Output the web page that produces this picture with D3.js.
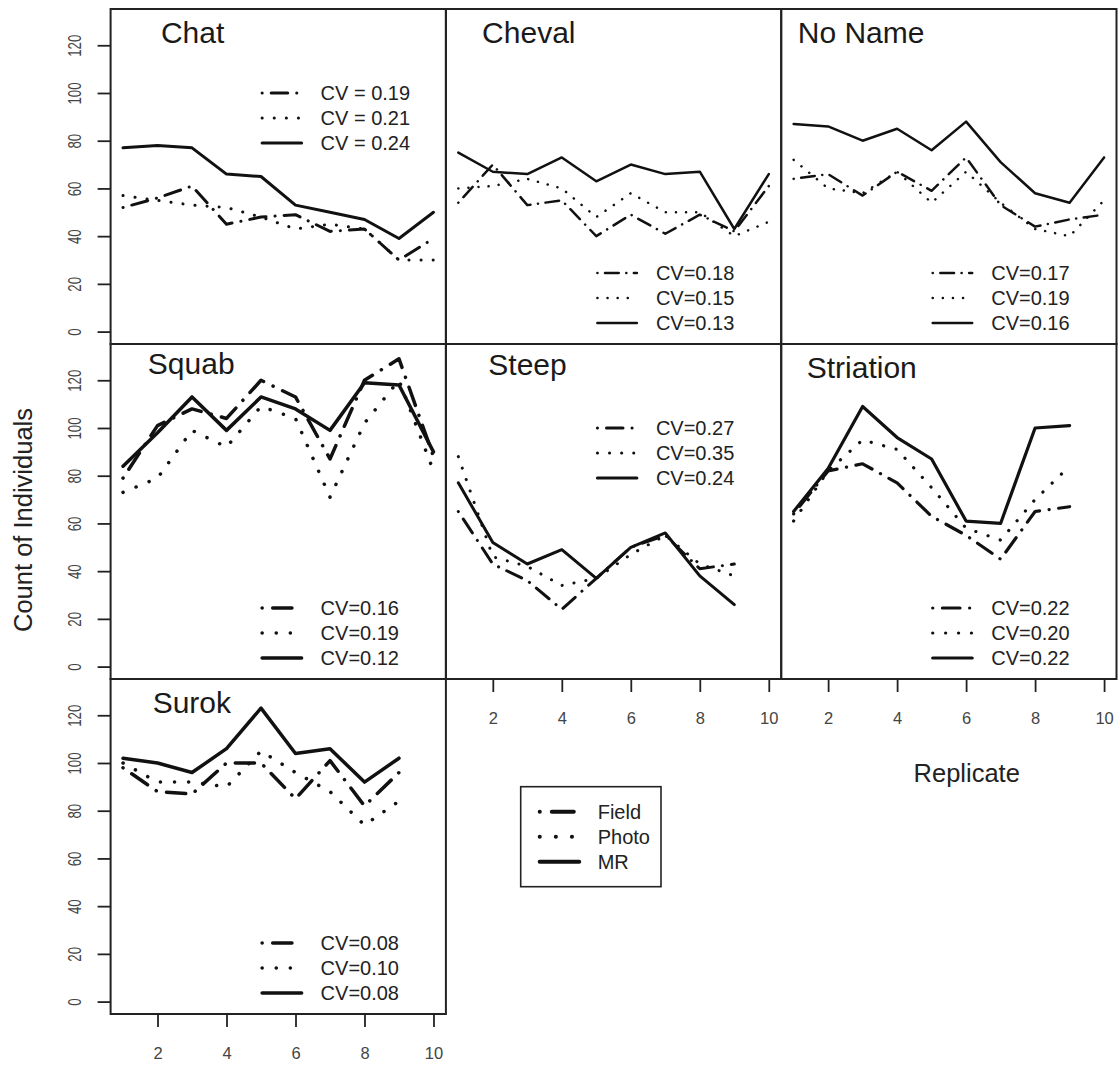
<!DOCTYPE html>
<html>
<head>
<meta charset="utf-8">
<script src="https://cdn.jsdelivr.net/npm/d3@7"></script>
<style>
  body { margin: 0; background: #fff; }
  svg text { font-family: "Liberation Sans", Arial, sans-serif; }
</style>
</head>
<body>
<svg id="chart" width="1119" height="1065"></svg>
<script>
// Site names, one panel each (row-major)
const sites = ["Chat", "Cheval", "No Name", "Squab", "Steep", "Striation", "Surok"];

// Counts per replicate, one row per site
const fieldCounts = [
  [52, 56, 61, 45, 48, 49, 42, 43, 30, 39],
  [54, 70, 53, 55, 40, 49, 41, 49, 42, 61],
  [64, 66, 57, 67, 59, 73, 53, 44, 47, 49],
  [79, 101, 108, 104, 120, 113, 87, 120, 129, 88],
  [65, 43, 36, 24, 37, 50, 55, 41, 43],
  [64, 82, 85, 77, 63, 55, 45, 65, 67],
  [98, 88, 87, 100, 100, 85, 101, 82, 96]
];
const photoCounts = [
  [57, 55, 53, 52, 48, 43, 45, 43, 30, 30],
  [60, 61, 64, 60, 48, 58, 50, 50, 40, 46],
  [72, 60, 58, 67, 54, 67, 54, 43, 40, 55],
  [73, 79, 99, 92, 109, 104, 71, 102, 120, 82],
  [88, 46, 42, 34, 37, 47, 55, 43, 38],
  [61, 82, 95, 91, 75, 58, 53, 70, 84],
  [100, 92, 92, 90, 105, 96, 88, 74, 84]
];
const mrCounts = [
  [77, 78, 77, 66, 65, 53, 50, 47, 39, 50],
  [75, 67, 66, 73, 63, 70, 66, 67, 43, 66],
  [87, 86, 80, 85, 76, 88, 71, 58, 54, 73],
  [84, 98, 113, 99, 113, 108, 99, 119, 118, 90],
  [77, 52, 43, 49, 37, 50, 56, 38, 26],
  [65, 83, 109, 96, 87, 61, 60, 100, 101],
  [102, 100, 96, 106, 123, 104, 106, 92, 102]
];

// CV legend labels per site
const cvField = ["CV = 0.19", "CV=0.18", "CV=0.17", "CV=0.16", "CV=0.27", "CV=0.22", "CV=0.08"];
const cvPhoto = ["CV = 0.21", "CV=0.15", "CV=0.19", "CV=0.19", "CV=0.35", "CV=0.20", "CV=0.10"];
const cvMR    = ["CV = 0.24", "CV=0.13", "CV=0.16", "CV=0.12", "CV=0.24", "CV=0.22", "CV=0.08"];

const methods = ["Field", "Photo", "MR"];
const xTicks = [2, 4, 6, 8, 10];
const yTicks = [0, 20, 40, 60, 80, 100, 120];

// ---- layout (not data) ----
const left0 = 110.6, top0 = 9, PW = 335.3, PH = 335;
const cols = 3;
const titleAt = [[2.1, 121], [1.69, 121], [1.12, 121], [1.72, 122.5], [1.87, 122], [1.38, 121], [1.86, 121]];
const legendTop = [true, false, false, false, true, false, false];
const lineW = [3, 2.5, 2.5, 3.5, 3, 3.2, 3.5];
const hasXAxis = [false, false, false, false, true, true, true];
const INK = "#111";

const dashFor = (m, lw) => m === "Field" ? `0.1 ${3 * lw} ${5.5 * lw} ${3 * lw}`
  : m === "Photo" ? `0.1 ${4 * lw}` : null;

const svg = d3.select("#chart");

const x = d3.scaleLinear().domain([0.64, 10.36]).range([0, PW]);
const y = d3.scaleLinear().domain([-5.2, 135.2]).range([PH, 0]);

const line = d3.line()
  .x((d, i) => x(i + 1))
  .y(d => y(d));

sites.forEach((site, p) => {
  const col = p % cols, row = Math.floor(p / cols);
  const g = svg.append("g")
    .attr("transform", `translate(${left0 + col * PW},${top0 + row * PH})`);
  const lw = lineW[p];

  // series
  const series = [fieldCounts[p], photoCounts[p], mrCounts[p]];
  series.forEach((vals, k) => {
    g.append("path")
      .attr("d", line(vals))
      .attr("fill", "none")
      .attr("stroke", INK)
      .attr("stroke-width", lw)
      .attr("stroke-linecap", "round")
      .attr("stroke-linejoin", "round")
      .attr("stroke-dasharray", dashFor(methods[k], lw));
  });

  // frame
  g.append("rect")
    .attr("width", PW).attr("height", PH)
    .attr("fill", "none").attr("stroke", "#222").attr("stroke-width", 2);

  // site title
  g.append("text")
    .attr("x", x(titleAt[p][0])).attr("y", y(titleAt[p][1]))
    .attr("font-size", 30).attr("fill", "#1a1a1a")
    .text(site);

  // CV legend
  const ly0 = legendTop[p] ? 84 : 264;
  const labels = [cvField[p], cvPhoto[p], cvMR[p]];
  methods.forEach((m, k) => {
    const ly = ly0 + k * 25;
    g.append("line")
      .attr("x1", 151.5).attr("x2", 191).attr("y1", ly).attr("y2", ly)
      .attr("stroke", INK).attr("stroke-width", lw)
      .attr("stroke-linecap", "round")
      .attr("stroke-dasharray", dashFor(m, lw));
    g.append("text")
      .attr("x", 210).attr("y", ly)
      .attr("dy", "0.36em")
      .attr("font-size", 20).attr("fill", "#222")
      .text(labels[k]);
  });

  // y axis on first column
  if (col === 0) {
    const ya = g.append("g").call(d3.axisLeft(y).tickValues(yTicks).tickSize(13));
    ya.select(".domain").remove();
    ya.selectAll("line").attr("stroke", "#222").attr("stroke-width", 1.8);
    ya.selectAll("text")
      .attr("x", null).attr("dy", null)
      .attr("text-anchor", "middle")
      .attr("dominant-baseline", "central")
      .attr("font-size", 17.5).attr("fill", "#444")
      .attr("font-family", "Liberation Sans, Arial, sans-serif")
      .attr("transform", `translate(${75 - left0},0) rotate(-90) scale(0.76,1)`);
  }

  // x axis where no panel sits below
  if (hasXAxis[p]) {
    const xa = g.append("g")
      .attr("transform", `translate(0,${PH})`)
      .call(d3.axisBottom(x).tickValues(xTicks).tickSize(13).tickPadding(20));
    xa.select(".domain").remove();
    xa.selectAll("line").attr("stroke", "#222").attr("stroke-width", 1.8);
    xa.selectAll("text")
      .attr("font-size", 16.5).attr("fill", "#444")
      .attr("font-family", "Liberation Sans, Arial, sans-serif");
  }
});

// shared axis titles
svg.append("text")
  .attr("transform", "translate(23,520) rotate(-90)")
  .attr("text-anchor", "middle").attr("dominant-baseline", "central")
  .attr("font-size", 25.5).attr("fill", "#222")
  .text("Count of Individuals");

svg.append("text")
  .attr("x", 966.7).attr("y", 773)
  .attr("text-anchor", "middle").attr("dominant-baseline", "central")
  .attr("font-size", 25.5).attr("fill", "#222")
  .text("Replicate");

// method key
const key = svg.append("g").attr("transform", "translate(520.7,786.7)");
key.append("rect")
  .attr("width", 140.3).attr("height", 100)
  .attr("fill", "none").attr("stroke", "#222").attr("stroke-width", 1.6);
methods.forEach((m, k) => {
  const ky = 25 + k * 25;
  key.append("line")
    .attr("x1", 19).attr("x2", 58.5).attr("y1", ky).attr("y2", ky)
    .attr("stroke", INK).attr("stroke-width", 4)
    .attr("stroke-linecap", "round")
    .attr("stroke-dasharray", m === "Field" ? "0.1 12 22 12" : dashFor(m, 4));
  key.append("text")
    .attr("x", 77).attr("y", ky).attr("dy", "0.36em")
    .attr("font-size", 20).attr("fill", "#222")
    .text(m);
});
</script>
</body>
</html>
